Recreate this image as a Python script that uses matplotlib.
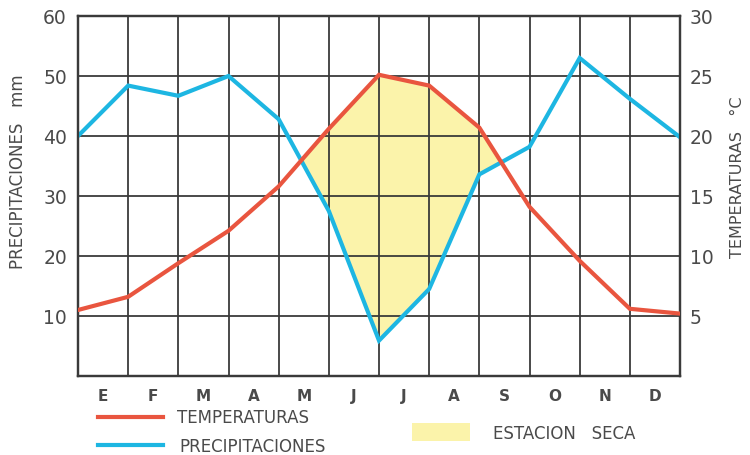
import numpy as np
import matplotlib
matplotlib.use("Agg")
import matplotlib.pyplot as plt
from matplotlib.patches import Rectangle
from matplotlib.lines import Line2D

# ---- data ----
months = ["E", "F", "M", "A", "M", "J", "J", "A", "S", "O", "N", "D"]
precip_mm = [40, 48.4, 46.7, 50, 42.8, 27.5, 5.9, 14.5, 33.6, 38.2, 53, 46.2, 39.8]
temp_c = [5.5, 6.6, 9.4, 12.1, 15.8, 20.6, 25.1, 24.2, 20.7, 14.1, 9.6, 5.6, 5.2]
left_ticks = [10, 20, 30, 40, 50, 60]
right_ticks = [5, 10, 15, 20, 25, 30]

plt.rcParams["font.family"] = ["DejaVu Sans"]

RED = "#E9553F"
BLUE = "#1DB6E2"
YELLOW = "#FBF3AA"
GRID = "#3a3a3a"
TXT = "#4a4a4a"

fig = plt.figure(figsize=(7.5, 4.56), dpi=100)
ax = fig.add_axes([78/750, 1-377/456, (680-78)/750, (377-17)/456])
ax2 = ax.twinx()

x = np.arange(len(precip_mm))
p = np.array(precip_mm)
t2 = np.array(temp_c) * 2.0  # temperature scale on precipitation axis (30 C <-> 60 mm)

ax.fill_between(x, p, t2, where=t2 > p, interpolate=True, color=YELLOW, lw=0, zorder=1)
ax.plot(x, p, color=BLUE, lw=3.0, solid_joinstyle="miter", zorder=3)
ax2.plot(x, temp_c, color=RED, lw=3.0, solid_joinstyle="miter", zorder=3)

ax.set_xlim(0, len(months))
ax.set_ylim(0, 60)
ax2.set_ylim(0, 30)

ax.set_xticks(np.arange(0, len(months) + 1))
ax.set_xticklabels([])
ax.set_xticks(np.arange(len(months)) + 0.5, minor=True)
ax.set_xticklabels(months, minor=True)
ax.set_yticks(left_ticks)
ax2.set_yticks(right_ticks)

ax.set_axisbelow("line")
ax.grid(True, which="major", color=GRID, lw=1.3)
ax.tick_params(axis="both", which="both", length=0)
ax2.tick_params(axis="both", which="both", length=0)
ax.tick_params(axis="x", which="minor", pad=9, labelsize=11, labelcolor=TXT)
ax.tick_params(axis="y", pad=8, labelsize=13.5, labelcolor=TXT)
ax2.tick_params(axis="y", pad=7, labelsize=13.5, labelcolor=TXT)
for lab in ax.get_xticklabels(minor=True):
    lab.set_fontweight("semibold")

for a in (ax, ax2):
    for s in a.spines.values():
        s.set_color(GRID)
        s.set_linewidth(1.6)

fig.text(18/750, 1-172/456, "PRECIPITACIONES   mm", rotation=90, ha="center", va="center",
         fontsize=12, color=TXT)
fig.text(738/750, 1-177/456, "TEMPERATURAS   °C", rotation=90, ha="center", va="center",
         fontsize=11.5, color=TXT)

# legend
fig.add_artist(Line2D([98/750, 163/750], [1-418/456, 1-418/456], color=RED, lw=3.0,
                      transform=fig.transFigure))
fig.add_artist(Line2D([98/750, 163/750], [1-446/456, 1-446/456], color=BLUE, lw=3.0,
                      transform=fig.transFigure))
fig.text(177/750, 1-418/456, "TEMPERATURAS", ha="left", va="center", fontsize=12, color=TXT)
fig.text(179/750, 1-447/456, "PRECIPITACIONES", ha="left", va="center", fontsize=12, color=TXT)
fig.add_artist(Rectangle((412/750, 1-442/456), 58/750, 18/456, color=YELLOW, lw=0,
                         transform=fig.transFigure))
fig.text(493/750, 1-434/456, "ESTACION   SECA", ha="left", va="center", fontsize=12, color=TXT)

fig.savefig("out.png", dpi=100)
